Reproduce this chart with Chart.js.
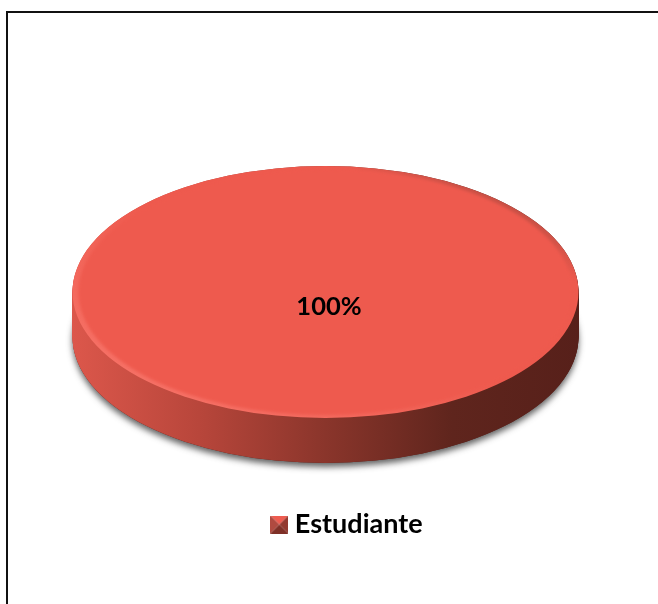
<!DOCTYPE html>
<html>
<head>
<meta charset="utf-8">
<style>
  html, body { margin: 0; padding: 0; background: #fff; }
  #wrap { position: relative; width: 658px; height: 604px; overflow: hidden; }
  #frame { position: absolute; left: 6px; top: 11px; width: 660px; height: 640px; border: 2px solid #111; box-sizing: border-box; }
  canvas { position: absolute; left: 0; top: 0; }
</style>
<script src="https://cdn.jsdelivr.net/npm/chart.js@4"></script>
</head>
<body>
<div id="wrap">
  <div id="frame"></div>
  <canvas id="pie" width="658" height="604"></canvas>
</div>
<script>
const categories = ["Estudiante"];
const seriesValues = [100];

const TILT = 0.498;       // squash of the disc
const DEPTH = 45;         // height of the disc edge in px
const CENTER = { x: 325.5, y: 292 };
const LEGEND_SHIFT = 21;

// Small pyramid marker used for the legend.
function makeMarker() {
  const c = document.createElement("canvas");
  c.width = 18;
  c.height = 18;
  const g = c.getContext("2d");
  const face = (color, pts) => {
    g.fillStyle = color;
    g.beginPath();
    g.moveTo(pts[0], pts[1]);
    g.lineTo(pts[2], pts[3]);
    g.lineTo(9, 9);
    g.closePath();
    g.fill();
  };
  face("#ee5c50", [0, 0, 18, 0]);
  face("#b04a40", [0, 0, 0, 18]);
  face("#93392f", [18, 0, 18, 18]);
  face("#7f3027", [0, 18, 18, 18]);
  return c;
}

// A stand-in for the slice that draws with other paint and an other radius.
function drawCopy(arc, ctx, paint, radius) {
  const copy = Object.create(arc);
  copy.outerRadius = radius;
  copy.options = { ...arc.options, backgroundColor: paint, borderWidth: 0, offset: 0, spacing: 0 };
  copy.draw(ctx);
}

// Tilts the pie and builds its edge out of the same arc element.
const tiltPlugin = {
  id: "tilt",
  afterLayout(chart) {
    chart.legend.left += LEGEND_SHIFT;
    chart.legend.right += LEGEND_SHIFT;
  },
  beforeDatasetDraw(chart, args) {
    const arc = chart.getDatasetMeta(args.index).data[0];
    const ctx = chart.ctx;
    const r = arc.outerRadius + 6;
    const place = (dy) => {
      ctx.setTransform(1, 0, 0, TILT, CENTER.x - arc.x, CENTER.y + dy - arc.y * TILT);
    };
    ctx.save();

    const side = ctx.createLinearGradient(arc.x - r, 0, arc.x + r, 0);
    side.addColorStop(0, "#dc574b");
    side.addColorStop(0.25, "#b8463b");
    side.addColorStop(0.5, "#8a352b");
    side.addColorStop(0.75, "#5f251d");
    side.addColorStop(1, "#57201a");

    // soft shadow under the disc
    place(DEPTH);
    ctx.save();
    ctx.shadowColor = "rgba(60,60,60,0.8)";
    ctx.shadowBlur = 6;
    ctx.shadowOffsetY = 4;
    drawCopy(arc, ctx, "#57201a", r);
    ctx.restore();

    for (let dy = DEPTH; dy >= 0; dy--) {
      place(dy);
      drawCopy(arc, ctx, side, r);
    }

    // bevel round the top face
    place(0);
    const rim = ctx.createLinearGradient(arc.x - r * 0.7, arc.y + r * 0.7, arc.x + r * 0.7, arc.y - r * 0.7);
    rim.addColorStop(0, "#f67065");
    rim.addColorStop(0.5, "#ee5a4e");
    rim.addColorStop(0.88, "#ee5a4e");
    rim.addColorStop(1, "#c95045");
    drawCopy(arc, ctx, rim, r);

    // the library draws the face next: keep its edge soft
    ctx.filter = "blur(1.5px)";
  },
  afterDatasetDraw(chart) {
    chart.ctx.restore();
  },
  afterDraw(chart) {
    // percentage label
    const ctx = chart.ctx;
    const total = seriesValues.reduce((a, b) => a + b, 0);
    ctx.save();
    ctx.fillStyle = "#000";
    ctx.font = "bold 25.5px Lato";
    ctx.textAlign = "center";
    ctx.textBaseline = "middle";
    ctx.fillText(Math.round(seriesValues[0] / total * 100) + "%", 329, 307);
    ctx.restore();
  }
};

new Chart(document.getElementById("pie"), {
  type: "pie",
  data: {
    labels: categories,
    datasets: [{
      data: seriesValues,
      backgroundColor: "#ee5a4e",
      borderWidth: 0,
      radius: 247
    }]
  },
  options: {
    responsive: false,
    animation: false,
    layout: { padding: { bottom: 56 } },
    plugins: {
      tooltip: { enabled: false },
      legend: {
        position: "bottom",
        labels: {
          usePointStyle: true,
          pointStyle: makeMarker(),
          pointStyleWidth: 4,
          color: "#000",
          font: { family: "Lato", weight: "bold", size: 27 }
        }
      }
    }
  },
  plugins: [tiltPlugin]
});
</script>
</body>
</html>
